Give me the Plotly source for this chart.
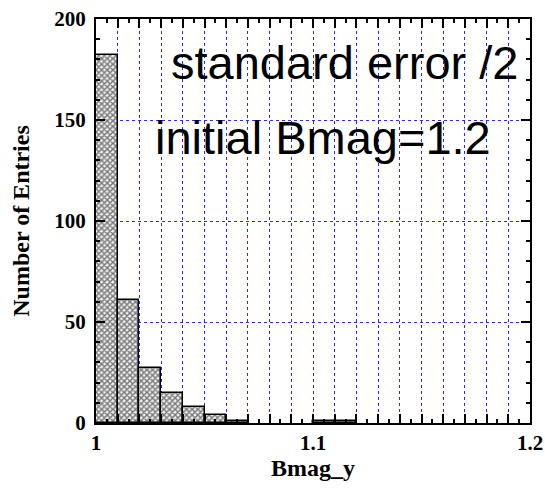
import numpy as np
import plotly.graph_objects as go

# ---- data ----
bin_left = [1.00, 1.01, 1.02, 1.03, 1.04, 1.05, 1.06, 1.10, 1.11]
counts = [182, 61, 27, 15, 8, 4, 1, 1, 1]
bin_width = 0.01

x_tick_labels = {1.0: "1", 1.1: "1.1", 1.2: "1.2"}
y_tick_vals = [0, 50, 100, 150, 200]
y_tick_text = ["0", "50", "100", "150", "200"]

x_title = "Bmag_y"
y_title = "Number of Entries"
note_lines = ["standard error /2", "initial Bmag=1.2"]

# grid positions for the x axis (every 0.01)
x_grid = [round(v, 2) for v in np.arange(1.0, 1.2001, 0.01)]
x_grid_text = [x_tick_labels.get(round(v, 2), "") for v in x_grid]

serif = "Liberation Serif, Times New Roman, serif"
sans = "Liberation Sans, Arial, sans-serif"

fig = go.Figure()
fig.add_trace(go.Bar(
    x=bin_left, y=counts, width=bin_width, offset=0,
    marker=dict(
        color="white",
        line=dict(color="black", width=1.5),
        pattern=dict(shape="x", size=4, solidity=0.6, fgcolor="black", bgcolor="#f0f0f0"),
    ),
    showlegend=False,
))

fig.update_layout(
    width=545, height=495,
    margin=dict(l=96, r=15, t=19, b=72),
    plot_bgcolor="white", paper_bgcolor="white",
    bargap=0,
    xaxis=dict(
        range=[1.0, 1.2], automargin=False,
        tickvals=x_grid, ticktext=x_grid_text,
        ticks="inside", ticklen=9, tickwidth=2, tickcolor="black",
        showline=True, linecolor="black", linewidth=2, mirror="allticks",
        showgrid=True, gridcolor="#2a2aff", griddash="dot", gridwidth=1,
        zeroline=False, ticklabeloverflow="allow",
        tickfont=dict(family=serif, size=21, color="black", weight="bold"),
        title=dict(text=f"<b>{x_title}</b>", font=dict(family=serif, size=24, color="black"), standoff=3),
        minor=dict(dtick=0.005, tick0=1.0, ticks="inside", ticklen=4, tickwidth=1.5, tickcolor="black", showgrid=False),
    ),
    yaxis=dict(
        range=[0, 200], automargin=False,
        tickvals=y_tick_vals, ticktext=y_tick_text,
        ticks="inside", ticklen=9, tickwidth=2, tickcolor="black",
        showline=True, linecolor="black", linewidth=2, mirror="allticks",
        showgrid=True, gridcolor="#2a2aff", griddash="dot", gridwidth=1,
        zeroline=False, ticklabeloverflow="allow",
        tickfont=dict(family=serif, size=21, color="black", weight="bold"),
        ticklabelstandoff=4,
        title=dict(text=f"<b>{y_title}</b>", font=dict(family=serif, size=24, color="black"), standoff=18),
        minor=dict(dtick=10, tick0=0, ticks="inside", ticklen=4, tickwidth=1.5, tickcolor="black", showgrid=False),
    ),
    annotations=[
        dict(x=1.1145, y=178.5, xref="x", yref="y", text=note_lines[0], showarrow=False,
             xanchor="center", yanchor="middle", font=dict(family=sans, size=47, color="black")),
        dict(x=1.1048, y=141.5, xref="x", yref="y", text=note_lines[1], showarrow=False,
             xanchor="center", yanchor="middle", font=dict(family=sans, size=47, color="black")),
    ],
)

fig.write_html(
    "out.html",
    config={"displayModeBar": False},
    post_script="document.body.style.margin='0';document.body.style.overflow='hidden';",
)
